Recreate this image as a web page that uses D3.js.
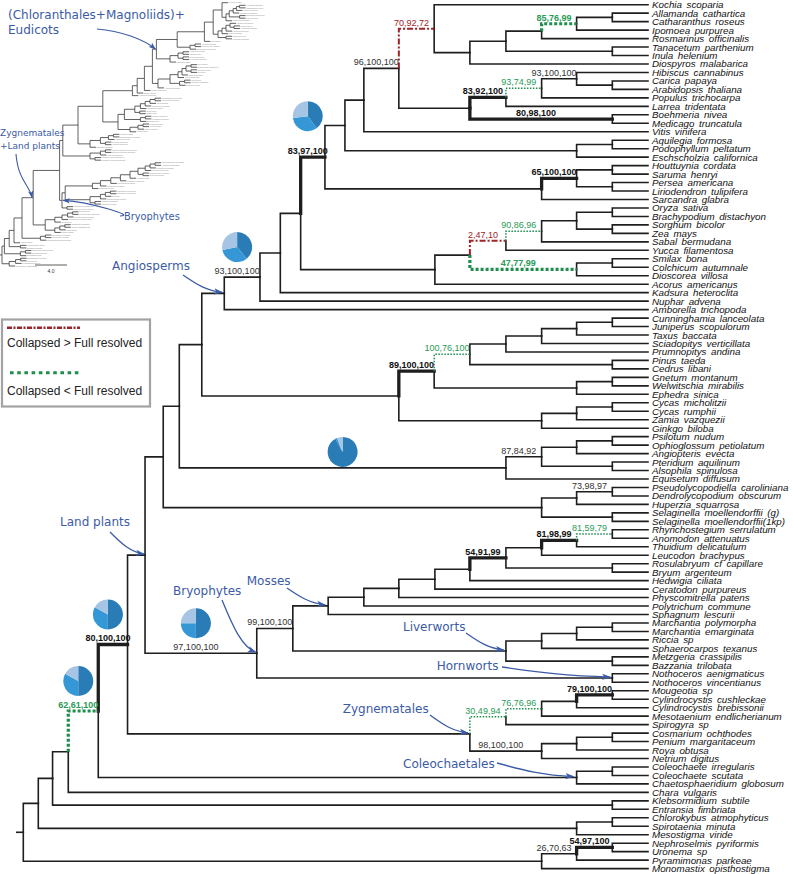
<!DOCTYPE html>
<html><head><meta charset="utf-8">
<script src="https://cdn.jsdelivr.net/npm/d3@7"></script>
<style>body{margin:0;background:#fff}svg{display:block}</style>
</head><body><svg id="c" width="793" height="874"></svg>
<script>
// ---------------- DATA ----------------
const leaves = ["Kochia scoparia","Allamanda cathartica","Catharanthus roseus","Ipomoea purpurea","Rosmarinus officinalis","Tanacetum parthenium","Inula helenium","Diospyros malabarica","Hibiscus cannabinus","Carica papaya","Arabidopsis thaliana","Populus trichocarpa","Larrea tridentata","Boehmeria nivea","Medicago truncatula","Vitis vinifera","Aquilegia formosa","Podophyllum peltatum","Eschscholzia californica","Houttuynia cordata","Saruma henryi","Persea americana","Liriodendron tulipifera","Sarcandra glabra","Oryza sativa","Brachypodium distachyon","Sorghum bicolor","Zea mays","Sabal bermudana","Yucca filamentosa","Smilax bona","Colchicum autumnale","Dioscorea villosa","Acorus americanus","Kadsura heteroclita","Nuphar advena","Amborella trichopoda","Cunninghamia lanceolata","Juniperus scopulorum","Taxus baccata","Sciadopitys verticillata","Prumnopitys andina","Pinus taeda","Cedrus libani","Gnetum montanum","Welwitschia mirabilis","Ephedra sinica","Cycas micholitzii","Cycas rumphii","Zamia vazquezii","Ginkgo biloba","Psilotum nudum","Ophioglossum petiolatum","Angiopteris evecta","Pteridium aquilinum","Alsophila spinulosa","Equisetum diffusum","Pseudolycopodiella caroliniana","Dendrolycopodium obscurum","Huperzia squarrosa","Selaginella moellendorffii (g)","Selaginella moellendorffii(1kp)","Rhynchostegium serrulatum","Anomodon attenuatus","Thuidium delicatulum","Leucodon brachypus","Rosulabryum cf capillare","Bryum argenteum","Hedwigia ciliata","Ceratodon purpureus","Physcomitrella patens","Polytrichum commune","Sphagnum lescurii","Marchantia polymorpha","Marchantia emarginata","Riccia sp","Sphaerocarpos texanus","Metzgeria crassipilis","Bazzania trilobata","Nothoceros aenigmaticus","Nothoceros vincentianus","Mougeotia sp","Cylindrocystis cushleckae","Cylindrocystis brebissonii","Mesotaenium endlicherianum","Spirogyra sp","Cosmarium ochthodes","Penium margaritaceum","Roya obtusa","Netrium digitus","Coleochaete irregularis","Coleochaete scutata","Chaetosphaeridium globosum","Chara vulgaris","Klebsormidium subtile","Entransia fimbriata","Chlorokybus atmophyticus","Spirotaenia minuta","Mesostigma viride","Nephroselmis pyriformis","Uronema sp","Pyramimonas parkeae","Monomastix opisthostigma"];

const tipDepth = 17.5;
// [node, depth from root (main tree units), children: leaf numbers (1-based) or node names]
const clades = [
 ["F",16.5,[2,3]],["E",15.5,["F",4]],["D",14.52,["E",5]],["G",16.5,[6,7]],["C",13.52,["D","G"]],
 ["B",12.51,["C",8]],["A",11.51,[1,"B"]],["O",16.5,[10,11]],["N",15.5,[9,"O"]],["M",14.52,["N",12]],
 ["K",13.52,["M",13]],["L",16.5,[14,15]],["I",12.51,["K","L"]],["H",10.52,["A","I"]],["J",9.54,["H",16]],
 ["Q1",16.5,[17,18]],["Q",15.5,["Q1",19]],["P",9.01,["J","Q"]],["V1",16.5,[20,21]],["V2",16.5,[22,23]],
 ["V",15.5,["V1","V2"]],["S",14.52,["V",24]],["R",8.45,["P","S"]],["AA1",16.5,[25,26]],["AA2",16.5,[27,28]],
 ["AA",15.5,["AA1","AA2"]],["Z",14.52,["AA",29]],["X",13.52,["Z",30]],["Y1",16.5,[31,32]],["Y",15.5,["Y1",33]],
 ["W",12.51,["X","Y"]],["U",11.53,["W",34]],["T",7.77,["R","U"]],["AB",7.2,["T",35]],["AD",6.63,["AB",36]],
 ["AC",5.63,["AD",37]],["AK1",16.5,[38,39]],["AK",15.5,["AK1",40]],["AJ",14.52,["AK",41]],["AI",13.52,["AJ",42]],
 ["AH1",16.5,[43,44]],["AH",12.51,["AI","AH1"]],["AL1",16.5,[45,46]],["AL",15.5,["AL1",47]],["AG",11.51,["AH","AL"]],
 ["AN1",16.5,[48,49]],["AN",15.5,["AN1",50]],["AM",14.52,["AN",51]],["AF",10.52,["AG","AM"]],["AE",5.0,["AC","AF"]],
 ["AR1",16.5,[52,53]],["AR",15.5,["AR1",54]],["AQ1",16.5,[55,56]],["AQ",14.52,["AR","AQ1"]],["AP",13.52,["AQ",57]],
 ["AO",4.37,["AE","AP"]],["AU1",16.5,[58,59]],["AU",15.5,["AU1",60]],["AT1",16.5,[61,62]],["AT",14.52,["AU","AT1"]],
 ["AS",3.92,["AO","AT"]],["RA",16.5,[63,64]],["MV",15.5,["RA",65]],["MU",14.52,["MV",66]],["MT1",16.5,[67,68]],
 ["MT",13.52,["MU","MT1"]],["MS",12.51,["MT",69]],["MR",11.53,["MS",70]],["MQ",10.52,["MR",71]],["MP",9.54,["MQ",72]],
 ["MO",8.54,["MP",73]],["LW2",16.5,[74,75]],["LW1",15.5,["LW2",76]],["LW",14.52,["LW1",77]],["LV1",16.5,[78,79]],
 ["LV",13.52,["LW","LV1"]],["BS",7.55,["MO","LV"]],["HW",16.5,[80,81]],["BR",6.54,["BS","HW"]],["AV",3.41,["AS","BR"]],
 ["MC",16.5,[82,83]],["ZC",15.5,["MC",84]],["ZB",14.52,["ZC",85]],["ZA",13.52,["ZB",86]],["DS2",16.5,[87,88]],
 ["DS1",15.5,["DS2",89]],["DS",14.52,["DS1",90]],["ZY",12.51,["ZA","DS"]],["AW",2.92,["AV","ZY"]],["CO1",16.5,[91,92]],
 ["CO",15.5,["CO1",93]],["AX",2.1,["AW","CO"]],["AY",1.26,["AX",94]],["KE",16.5,[95,96]],["AZ",0.82,["AY","KE"]],
 ["CS1",16.5,[97,98]],["CS",15.5,["CS1",99]],["BA",0.42,["AZ","CS"]],["NU",16.5,[100,101]],["PS",15.5,["NU",102]],
 ["PR",14.52,["PS",103]],["ROOT",0,["BA","PR"]]
];

// support values shown on branches
const supports = [["A","70,92,72"],["E","85,76,99"],["N","93,100,100"],["M","93,74,99"],["K","83,92,100"],["L","80,98,100"],["H","96,100,100"],["V","65,100,100"],["R","83,97,100"],["Z","90,86,96"],["X","2,47,10"],["Y","47,77,99"],["AD","93,100,100"],["AH","100,76,100"],["AG","89,100,100"],["AQ","87,84,92"],["AU1","73,98,97"],["RA","81,59,79"],["MV","81,98,99"],["MT","54,91,99"],["BS","99,100,100"],["BR","97,100,100"],["MC","79,100,100"],["ZB","76,76,96"],["ZA","30,49,94"],["DS","98,100,100"],["AW","80,100,100"],["AX","62,61,100"],["NU","54,97,100"],["PS","26,70,63"]];
const strongNodes = ["E","K","L","V","R","Y","AG","MV","MT","MC","AW","AX","NU"];
const collapsedGreater = ["A","X"];              // Collapsed > Full resolved
const collapsedLess = ["M","Z","AH","RA","ZA","ZB","E","Y","AX"]; // Collapsed < Full resolved
// pie charts: [node, dark, medium, light]
const pies = [["R",0.40,0.33,0.27],["AD",0.39,0.33,0.28],["AP",0.92,0.02,0.06],["AW",0.50,0.33,0.17],["BR",0.50,0.25,0.25],["AX",0.50,0.33,0.17]];
// clade names: [text, node]
const cladeNames = [["Angiosperms","AC"],["Land plants","AV"],["Mosses","MO"],["Bryophytes","BR"],["Liverworts","LV"],["Hornworts","HW"],["Zygnematales","ZY"],["Coleochaetales","CO"]];
// inset phylogram node positions (branch-length tree, units of the 4.0 scale bar)
const insetDepth = {ROOT:0,BA:0.3,AZ:0.9,AY:1.5,AX:2.5,AW:3.9,AV:7.2,BR:7.5,BS:7.9,AS:7.6,AO:9.5,AE:12.6,AC:16.3,AD:16.9,AB:17.8,T:18.8,R:19.3,P:21.9,J:25.3,H:26.4,A:27.5,B:28,C:28.4,D:28.9,E:29.3,F:29.7,G:29.7,I:27,K:27.5,M:28,N:28.5,O:29,L:28,Q:23.5,S:21,V:22,U:19.5,W:21,X:22,Z:22.5,AA:23,Y:22.2,AF:14.5,AG:15.3,AH:16.6,AI:17.3,AJ:17.9,AK:18.5,AL:17.3,AM:16,AN:17,AP:11,AQ:12.3,AR:13.3,AT:11,AU:12.3,MO:11.3,MP:12.3,MQ:13.6,MR:14.8,MS:16,MT:17,MU:17.9,MV:18.5,LV:11,LW:12.3,ZY:5.4,ZA:6.6,ZB:7.5,ZC:8.2,DS:6.6,CO:4.8,KE:2.3,CS:2.3,PR:0.9,PS:1.7};
const insetNames = [["(Chloranthales+Magnoliids)+","Eudicots","R"],["Zygnematales","+Land plants","AW"],["Bryophytes","","BR"]];
const scaleBarValue = 4.0;

// ---------------- LAYOUT / STYLE ----------------
const svg = d3.select("#c");
const C = {ink:"#1e1e1e", red:"#9e2227", green:"#1f8d4c", greenTxt:"#2a9a58", blue:"#3c5ba6",
  pieCols:["#2a7cb6","#3597d6","#a6c4e4"]};
const cladeMap = new Map(clades.map(c=>[c[0],c]));
function build(ref){
  if (typeof ref === "number") return {name:leaves[ref-1], idx:ref-1, depth:tipDepth};
  const c = cladeMap.get(ref);
  return {id:c[0], depth:c[1], children:c[2].map(build)};
}
const root = d3.hierarchy(build("ROOT"));
const xs = d3.scaleLinear().domain([0,tipDepth]).range([23.3,648]);
const ys = d3.scaleLinear().domain([0,leaves.length-1]).range([4.7,868.6]);
root.eachAfter(n=>{
  if (!n.children) n.y = ys(n.data.idx);
  else n.y = (n.children[0].y + n.children[n.children.length-1].y)/2;
  n.x = xs(n.data.depth);
});
const byId = new Map(); root.each(n=>{ if(n.data.id) byId.set(n.data.id,n); });
const bold = new Set(strongNodes);
const red = new Set(collapsedGreater), green = new Set(collapsedLess);

const gT = svg.append("g");
const branchPath = n => `M${n.parent.x},${n.parent.y}V${n.y}H${n.x}`;
const nonRoot = root.descendants().filter(n=>n.parent);
function styleOf(n){
  const id = n.data.id;
  if (id && red.has(id)) return "red";
  if (id && green.has(id)) return bold.has(id) ? "greenBold" : "green";
  if (id && bold.has(id)) return "thick";
  return "normal";
}
["normal","thick"].forEach(k=>{
  gT.selectAll(null).data(nonRoot.filter(n=>styleOf(n)===k)).join("path")
    .attr("d",branchPath).attr("fill","none").attr("stroke",C.ink)
    .attr("stroke-width",k==="thick"?3.3:1.6).attr("stroke-linecap","square");
});
const spec = {red:{c:C.red,w:2,d:"6,2,2,2"},green:{c:C.green,w:1.5,d:"1.5,1.5"},greenBold:{c:C.green,w:3.2,d:"3,2"}};
Object.keys(spec).forEach(k=>{
  const s = spec[k];
  gT.selectAll(null).data(nonRoot.filter(n=>styleOf(n)===k)).join("path")
    .attr("d",branchPath).attr("fill","none").attr("stroke",s.c)
    .attr("stroke-width",s.w).attr("stroke-dasharray",s.d);
});
gT.append("path").attr("d",`M16,${root.y}H${root.x}`).attr("stroke",C.ink).attr("stroke-width",1.6);

// leaf labels
gT.selectAll(null).data(root.leaves()).join("text")
  .attr("x",652).attr("y",d=>d.y+3.5).text(d=>d.data.name)
  .attr("font-family","Liberation Sans, Arial, sans-serif").attr("font-style","italic")
  .attr("font-size",9.8).attr("word-spacing","1.8px").attr("fill","#111");

// support labels
const supPos = id => { const n = byId.get(id); return {x:(n.parent.x+n.x)/2-5, y:n.y-3, n}; };
gT.selectAll(null).data(supports).join("text")
  .each(function(d){ const p = supPos(d[0]); d3.select(this).attr("x",p.x).attr("y",p.y); })
  .attr("text-anchor","middle").attr("font-family","Liberation Sans, Arial, sans-serif")
  .attr("font-size",9).attr("font-weight",d=>bold.has(d[0])?"bold":"normal")
  .attr("fill",d=>red.has(d[0])?C.red:green.has(d[0])?C.greenTxt:(bold.has(d[0])?"#111":"#333"))
  .text(d=>d[1]);

// pies
const pieLift = {R:41, AP:16};
const pieGen = d3.pie().sort(null).value(v=>v);
const arc = d3.arc().innerRadius(0).outerRadius(15);
pies.forEach(p=>{
  const n = byId.get(p[0]);
  const hasLabel = supports.some(s=>s[0]===p[0]);
  const cx = hasLabel ? (n.parent.x+n.x)/2-5 : (n.parent.x+n.x)/2;
  const cy = n.y - (pieLift[p[0]] || 30);
  const g = svg.append("g").attr("transform",`translate(${cx},${cy})`);
  g.selectAll("path").data(pieGen(p.slice(1))).join("path").attr("d",arc).attr("fill",(d,i)=>C.pieCols[i]);
});

// legend
const lg = svg.append("g");
lg.append("rect").attr("x",2).attr("y",319.5).attr("width",148).attr("height",87).attr("fill","#fff").attr("stroke","#a3a3a3").attr("stroke-width",2.2);
lg.append("line").attr("x1",7).attr("x2",80).attr("y1",327.7).attr("y2",327.7).attr("stroke",C.red).attr("stroke-width",2.5).attr("stroke-dasharray","5,1.5,2,1.5");
lg.append("line").attr("x1",10).attr("x2",80).attr("y1",372.7).attr("y2",372.7).attr("stroke",C.green).attr("stroke-width",3).attr("stroke-dasharray","3.6,3.6");
lg.append("text").attr("x",7).attr("y",347).text("Collapsed > Full resolved");
lg.append("text").attr("x",7).attr("y",395).text("Collapsed < Full resolved");
lg.selectAll("text").attr("font-family","Liberation Sans, Arial, sans-serif").attr("font-size",12).attr("fill","#222");

// clade name annotations with arrows
svg.append("defs").append("marker").attr("id","ah").attr("viewBox","0 0 10 10").attr("refX",9).attr("refY",5)
  .attr("markerWidth",7).attr("markerHeight",7).attr("orient","auto-start-reverse")
  .append("path").attr("d","M0,1.5L10,5L0,8.5L2.5,5Z").attr("fill",C.blue);
const annotLayout = {
  Angiosperms:{tx:112,ty:270,sx:183,sy:275,dx:-2},
  "Land plants":{tx:60,ty:526,sx:110,sy:532,dx:-1},
  Mosses:{tx:246.7,ty:585,sx:287,sy:588,dx:-3},
  Bryophytes:{tx:173,ty:595,sx:222,sy:600,dx:-1},
  Liverworts:{tx:403,ty:631,sx:466,sy:633,dx:-2},
  Hornworts:{tx:436.7,ty:670,sx:502,sy:667,dx:-2},
  Zygnematales:{tx:342.7,ty:713,sx:430,sy:715,dx:-2},
  Coleochaetales:{tx:403,ty:767.5,sx:497,sy:763,dx:-3}
};
const ga = svg.append("g");
cladeNames.forEach(([t,id])=>{
  const L = annotLayout[t], n = byId.get(id);
  const tx = n.x + L.dx, ty = n.y - 1;
  const dx = tx - L.sx, dy = ty - L.sy;
  ga.append("text").attr("x",L.tx).attr("y",L.ty).text(t)
    .attr("font-family","DejaVu Sans, sans-serif").attr("font-size",12).attr("fill",C.blue);
  ga.append("path").attr("d",`M${L.sx},${L.sy}C${L.sx+dx*0.35},${L.sy+dy*0.55} ${tx-dx*0.4},${ty-dy*0.1} ${tx},${ty}`)
    .attr("fill","none").attr("stroke",C.blue).attr("stroke-width",1.3).attr("marker-end","url(#ah)");
});

// ---------------- INSET PHYLOGRAM ----------------
const gi = svg.append("g");
const ix = d3.scaleLinear().domain([0,4]).range([2,34]);
const iy = d3.scaleLinear().domain([0,leaves.length-1]).range([2.7,266]);
const ir = root.copy();
ir.eachBefore(n=>{
  const id = n.data.id;
  if (!n.parent) n.ix = ix(insetDepth.ROOT);
  else if (id && insetDepth[id] !== undefined) n.ix = ix(insetDepth[id]);
  else n.ix = n.parent.ix + (n.children ? 5 : 6);
});
ir.eachAfter(n=>{ n.iy = n.children ? (n.children[0].iy+n.children[n.children.length-1].iy)/2 : iy(n.data.idx); });
gi.selectAll(null).data(ir.descendants().filter(n=>n.parent)).join("path")
  .attr("d",n=>`M${n.parent.ix},${n.parent.iy}V${n.iy}H${n.ix}`).attr("fill","none").attr("stroke","#3a3a3a").attr("stroke-width",0.8);
gi.append("path").attr("d",`M0,${ir.iy}H${ir.ix}`).attr("stroke","#3a3a3a").attr("stroke-width",0.8);
gi.selectAll(null).data(ir.leaves()).join("text").attr("x",n=>n.ix+0.6).attr("y",n=>n.iy+0.7)
  .text(n=>n.data.name).attr("font-family","Liberation Sans, Arial, sans-serif").attr("font-size",1.8).attr("fill","#888");
gi.append("line").attr("x1",ix(0)+33).attr("x2",ix(scaleBarValue)+33).attr("y1",265).attr("y2",265).attr("stroke","#333").attr("stroke-width",0.8);
gi.append("text").attr("x",(ix(0)+ix(scaleBarValue))/2+33).attr("y",273).attr("text-anchor","middle").text(scaleBarValue.toFixed(1))
  .attr("font-family","Liberation Sans, Arial, sans-serif").attr("font-size",5).attr("fill","#333");
const insetLayout = {
  R:{tx:8,ty1:19,ty2:34,fs:12,sx:97,sy:29,dx:-1},
  AW:{tx:0,ty1:136,ty2:149,fs:9,sx:16,sy:154,dx:-1},
  BR:{tx:124,ty1:220,ty2:0,fs:9.8,sx:120,sy:216,dx:1}
};
insetNames.forEach(([t1,t2,id])=>{
  const L = insetLayout[id]; const n = ir.descendants().find(d=>d.data.id===id);
  const t = gi.append("text").attr("font-family","DejaVu Sans, sans-serif").attr("font-size",L.fs).attr("fill",C.blue);
  t.append("tspan").attr("x",L.tx).attr("y",L.ty1).text(t1);
  if (t2) t.append("tspan").attr("x",L.tx).attr("y",L.ty2).text(t2);
  const tx = n.ix + L.dx, ty = n.iy;
  const dx = tx-L.sx, dy = ty-L.sy;
  let d;
  if (id==="AW") d = `M${L.sx},${L.sy}C${L.sx+2},${L.sy+dy*0.6} ${tx-3},${ty-dy*0.3} ${tx},${ty}`;
  else if (id==="BR") d = `M${L.sx},${L.sy}C${L.sx-dx*0.3},${L.sy} ${tx+dx*-0.5},${ty+2} ${tx},${ty}`;
  else d = `M${L.sx},${L.sy}C${L.sx+dx*0.4},${L.sy+dy*0.1} ${tx-dx*0.2},${ty-dy*0.5} ${tx},${ty}`;
  gi.append("path").attr("d",d).attr("fill","none").attr("stroke",C.blue).attr("stroke-width",1.1).attr("marker-end","url(#ah)");
});
</script></body></html>
